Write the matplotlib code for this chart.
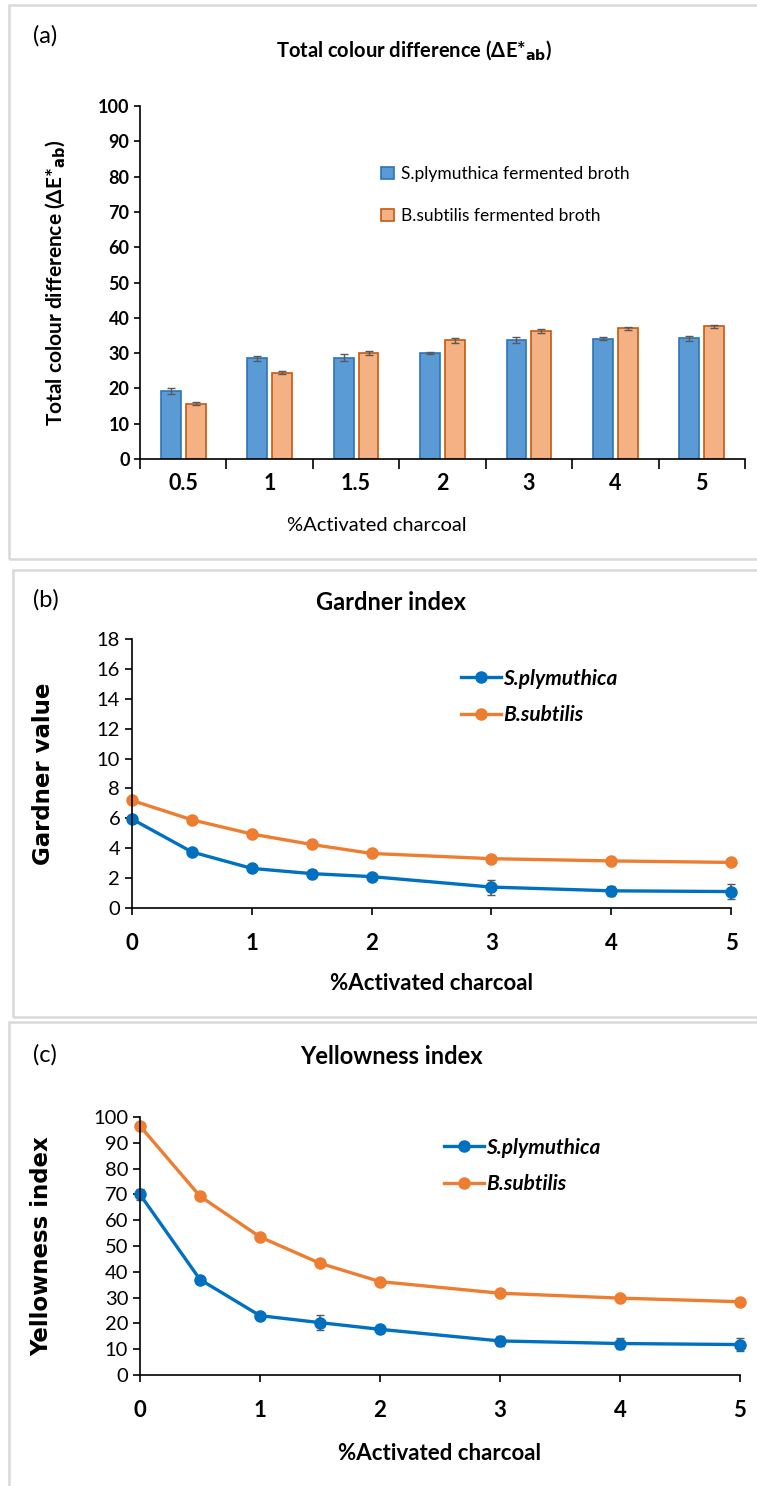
import matplotlib
matplotlib.use("Agg")
import matplotlib.pyplot as plt
from matplotlib.patches import Rectangle

plt.rcParams['font.family'] = ['Lato', 'DejaVu Sans']

# (a) total colour difference
bar_cats = ['0.5', '1', '1.5', '2', '3', '4', '5']
de_sp = [19.2, 28.5, 28.7, 30.0, 33.7, 34.1, 34.2]
de_sp_err = [0.8, 0.8, 1.0, 0.2, 0.8, 0.5, 0.7]
de_bs = [15.7, 24.5, 30.0, 33.7, 36.2, 37.0, 37.6]
de_bs_err = [0.4, 0.4, 0.5, 0.7, 0.5, 0.4, 0.4]

# (b) Gardner index and (c) yellowness index
charcoal = [0, 0.5, 1, 1.5, 2, 3, 4, 5]
gard_sp = [5.95, 3.75, 2.65, 2.3, 2.1, 1.4, 1.15, 1.1]
gard_sp_err = [0.1, 0.15, 0.15, 0.25, 0.15, 0.5, 0.35, 0.5]
gard_bs = [7.2, 5.9, 4.95, 4.25, 3.65, 3.3, 3.15, 3.05]
gard_bs_err = [0.15, 0.1, 0.1, 0.25, 0.15, 0.1, 0.1, 0.1]
yi_sp = [70.0, 37.0, 23.0, 20.3, 17.7, 13.2, 12.2, 11.8]
yi_sp_err = [2, 1, 1, 3, 1.5, 2, 2, 2.5]
yi_bs = [96.5, 69.3, 53.5, 43.3, 36.2, 31.7, 29.8, 28.4]
yi_bs_err = [1, 1, 1, 1, 1, 0.5, 0.5, 0.5]

W, H = 757, 1486
fig = plt.figure(figsize=(W / 100, H / 100), dpi=100)


def fbox(x0, y0, x1, y1):
    # pixel box -> figure fraction rect
    return [x0 / W, 1 - y1 / H, (x1 - x0) / W, (y1 - y0) / H]


def fx(x):
    return x / W


def fy(y):
    return 1 - y / H


# panel frames
for (x0, y0, x1, y1) in [(9, 5, 762, 559), (13, 570, 762, 1017), (9, 1022, 762, 1492)]:
    fig.patches.append(Rectangle((x0 / W, 1 - y1 / H), (x1 - x0) / W, (y1 - y0) / H,
                                 transform=fig.transFigure, fill=False,
                                 edgecolor='#d9d9d9', lw=1.8))

# ---- (a) ----
ax = fig.add_axes(fbox(140, 106, 745, 459))
xs = range(len(bar_cats))
w = 0.23
ax.bar([x - 0.144 for x in xs], de_sp, w, color='#5B9BD5', edgecolor='#2E75B6', lw=1.2,
       yerr=de_sp_err, ecolor='#595959', capsize=3, error_kw=dict(lw=1),
       label='S.plymuthica fermented broth')
ax.bar([x + 0.144 for x in xs], de_bs, w, color='#F4B183', edgecolor='#C55A11', lw=1.2,
       yerr=de_bs_err, ecolor='#595959', capsize=3, error_kw=dict(lw=1),
       label='B.subtilis fermented broth')
ax.set_xlim(-0.5, len(bar_cats) - 0.5)
ax.set_ylim(0, 100)
ax.set_yticks(range(0, 101, 10))
ax.set_xticks([x + 0.5 for x in range(-1, len(bar_cats))])
ax.set_xticklabels([])
ax.set_xticks(list(xs), minor=True)
ax.set_xticklabels(bar_cats, minor=True, fontsize=15.5, fontweight='bold')
ax.tick_params(axis='x', which='major', length=7, direction='out', width=1.2)
ax.tick_params(axis='x', which='minor', length=0, pad=10)
ax.tick_params(axis='y', labelsize=13, length=4, width=1.2)
for lb in ax.get_yticklabels():
    lb.set_fontweight('bold')
for s in ['top', 'right']:
    ax.spines[s].set_visible(False)
for s in ['left', 'bottom']:
    ax.spines[s].set_linewidth(1.2)
ax.set_ylabel('Total colour difference (ΔE*$_{\\mathbf{ab}}$)', fontsize=15,
              fontweight='bold')
ax.yaxis.set_label_coords(-0.119, 0.5)
ax.set_xlabel('%Activated charcoal', fontsize=14.5, labelpad=16)
ax.xaxis.set_label_coords((377 - 140) / 605, -0.165)
ax.legend(loc='center left', bbox_to_anchor=(fx(372), fy(195)), bbox_transform=fig.transFigure,
          frameon=False, fontsize=12.5, borderpad=0, handlelength=0.75, handleheight=0.75,
          labelspacing=1.5, handletextpad=0.4)
fig.text(fx(33), fy(36), '(a)', fontsize=17, va='center')
fig.text(fx(414), fy(50), 'Total colour difference (ΔE*$_{\\mathbf{ab}}$)',
         fontsize=14.5, fontweight='bold', ha='center', va='center')


def line_panel(box, ysp, ysp_err, ybs, ybs_err, ymax, ystep, ylabel, title, tag,
               title_y, leg_xy, ylab_x, xpad, xlabpad):
    ax = fig.add_axes(fbox(*box))
    ax.errorbar(charcoal, ysp, yerr=ysp_err, color='#0070C0', marker='o', ms=8, lw=2.4,
                ecolor='#595959', elinewidth=1.2, capsize=3, clip_on=False, label='S.plymuthica')
    ax.errorbar(charcoal, ybs, yerr=ybs_err, color='#ED7D31', marker='o', ms=8, lw=2.4,
                ecolor='#595959', elinewidth=1.2, capsize=3, clip_on=False, label='B.subtilis')
    ax.set_xlim(0, 5)
    ax.set_ylim(0, ymax)
    ax.set_yticks(range(0, ymax + 1, ystep))
    ax.set_xticks(range(0, 6))
    ax.tick_params(axis='x', labelsize=16, pad=xpad, length=5, width=1.2)
    ax.tick_params(axis='y', labelsize=14.5, length=5, width=1.2)
    for lb in ax.get_xticklabels():
        lb.set_fontweight('bold')
    for s in ['top', 'right']:
        ax.spines[s].set_visible(False)
    for s in ['left', 'bottom']:
        ax.spines[s].set_linewidth(1.2)
    ax.set_ylabel(ylabel, fontsize=16.5, fontweight='bold', family=['DejaVu Sans'])
    ax.yaxis.set_label_coords(ylab_x, 0.5)
    ax.set_xlabel('%Activated charcoal', fontsize=16, fontweight='bold', labelpad=xlabpad)
    handles, labels = ax.get_legend_handles_labels()
    handles = [h[0] for h in handles]
    leg = ax.legend(handles, labels, loc='center left', bbox_to_anchor=(fx(leg_xy[0]), fy(leg_xy[1])),
                    bbox_transform=fig.transFigure, frameon=False, borderpad=0,
                    fontsize=15, handlelength=1.9, labelspacing=0.8, handletextpad=0.1)
    for t in leg.get_texts():
        t.set_fontstyle('italic')
        t.set_fontweight('bold')
    fig.text(fx(391), fy(title_y), title, fontsize=17, fontweight='bold',
             ha='center', va='center')
    fig.text(fx(33), fy(title_y - 2), tag, fontsize=17, va='center')
    return ax


line_panel((132, 639, 731, 908), gard_sp, gard_sp_err, gard_bs, gard_bs_err, 18, 2,
           'Gardner value', 'Gardner index', '(b)', 602, (451, 697), -0.128, 13, 13.5)
line_panel((140, 1117, 740, 1375), yi_sp, yi_sp_err, yi_bs, yi_bs_err, 100, 10,
           'Yellowness index', 'Yellowness index', '(c)', 1057, (434, 1166), -0.145, 13, 15.5)

fig.savefig('out.png', dpi=100)
